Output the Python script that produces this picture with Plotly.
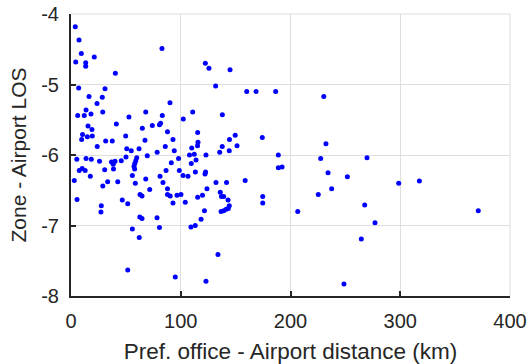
import plotly.graph_objects as go

distance_km = [
    3.9, 7.3, 9.4, 21.2, 4.3, 13.4, 13.4, 40.4, 82.9, 7.0, 31.0, 16.4, 28.5,
    122.4, 125.7, 144.9, 131.8, 160.1, 168.6, 186.5, 230.3,
    23.7, 90.2, 13.7, 6.1, 12.1, 18.2, 28.9, 52.8, 68.1, 83.2, 110.9, 137.9, 102.3,
    41.3, 15.5, 19.1, 74.1, 81.6, 80.6, 65.0, 87.9, 115.4, 149.6, 174.3,
    10.5, 14.9, 19.4, 9.7, 31.6, 37.6, 49.8, 67.4, 92.9, 144.4, 115.7, 115.3,
    23.9, 85.9, 151.3, 137.8, 50.8, 54.9, 62.0, 78.5, 94.1, 110.0, 144.2, 135.5,
    69.5, 108.0, 112.3, 123.0, 188.9, 50.1, 98.0, 5.3, 13.7, 18.5, 26.0, 36.9,
    40.1, 38.5, 45.8, 59.9, 59.0, 58.1, 57.4, 58.0, 91.4, 113.9, 109.6, 227.5,
    269.7, 232.3, 188.9, 192.3, 7.5, 10.2, 12.9, 30.7, 38.7, 86.6, 98.7, 113.3,
    122.6, 122.1, 17.6, 55.9, 81.1, 102.1, 106.6, 234.2, 251.8, 3.0, 33.4, 42.6,
    58.6, 68.1, 83.8, 132.1, 141.7, 158.7, 298.6, 317.4, 29.0, 71.7, 87.9, 123.9,
    237.5, 62.9, 64.7, 87.9, 90.4, 96.6, 100.2, 136.0, 137.1, 139.1, 119.8, 115.4,
    174.7, 225.3, 5.5, 46.7, 143.1, 51.7, 27.6, 92.9, 104.1, 174.7, 144.2, 143.3,
    141.4, 139.1, 136.7, 121.6, 27.3, 206.6, 267.6, 371.1, 62.7, 64.7, 78.4, 118.5,
    277.0, 55.9, 80.6, 109.3, 113.2, 62.2, 264.5, 133.9, 51.7, 95.0, 123.0, 248.7,
]

zone_airport_los = [
    -4.18, -4.37, -4.56, -4.61, -4.68, -4.69, -4.74, -4.84, -4.49, -5.05, -5.06, -5.17, -5.18,
    -4.70, -4.77, -4.79, -5.02, -5.10, -5.10, -5.10, -5.17,
    -5.27, -5.26, -5.36, -5.44, -5.44, -5.42, -5.39, -5.46, -5.39, -5.44, -5.39, -5.43, -5.49,
    -5.56, -5.59, -5.64, -5.58, -5.55, -5.57, -5.62, -5.67, -5.68, -5.72, -5.75,
    -5.71, -5.74, -5.73, -5.78, -5.80, -5.80, -5.73, -5.79, -5.78, -5.78, -5.82, -5.87,
    -5.88, -5.88, -5.87, -5.88, -5.91, -5.94, -5.91, -5.96, -5.94, -5.90, -5.94, -5.96,
    -6.01, -6.00, -5.99, -6.00, -6.00, -6.03, -6.05, -6.06, -6.05, -6.06, -6.09, -6.10,
    -6.09, -6.13, -6.08, -6.04, -6.08, -6.12, -6.16, -6.20, -6.11, -6.07, -6.12, -6.05,
    -6.04, -5.84, -6.18, -6.17, -6.22, -6.19, -6.22, -6.21, -6.20, -6.22, -6.22, -6.24,
    -6.24, -6.27, -6.30, -6.29, -6.30, -6.29, -6.30, -6.25, -6.31, -6.36, -6.38, -6.38,
    -6.40, -6.34, -6.39, -6.39, -6.39, -6.36, -6.40, -6.37, -6.44, -6.49, -6.48, -6.48,
    -6.48, -6.56, -6.58, -6.56, -6.58, -6.57, -6.56, -6.53, -6.59, -6.59, -6.57, -6.60,
    -6.59, -6.56, -6.63, -6.64, -6.64, -6.69, -6.72, -6.68, -6.67, -6.68, -6.72, -6.76,
    -6.77, -6.79, -6.80, -6.79, -6.81, -6.80, -6.71, -6.79, -6.88, -6.90, -6.89, -6.91,
    -6.96, -7.05, -7.03, -7.02, -7.00, -7.17, -7.19, -7.41, -7.63, -7.73, -7.79, -7.83,
]

x_tick_vals = [0, 100, 200, 300, 400]
x_tick_text = ["0", "100", "200", "300", "400"]
y_tick_vals = [-8, -7, -6, -5, -4]
y_tick_text = ["-8", "-7", "-6", "-5", "-4"]

x_title = "Pref. office - Airport distance (km)"
y_title = "Zone - Airport LOS"

axis_color = "#262626"
grid_color = "#dedede"
font_family = "Liberation Sans, Arial, sans-serif"

fig = go.Figure(
    go.Scatter(
        x=distance_km,
        y=zone_airport_los,
        mode="markers",
        marker=dict(color="#0000ff", size=5, line=dict(width=0)),
        showlegend=False,
        hoverinfo="skip",
    )
)

common_axis = dict(
    showgrid=True,
    gridcolor=grid_color,
    gridwidth=1,
    showline=True,
    linecolor=axis_color,
    linewidth=2,
    ticks="inside",
    ticklen=5,
    tickwidth=1.5,
    tickcolor=axis_color,
    zeroline=False,
    mirror=False,
    tickfont=dict(family=font_family, size=20, color=axis_color),
    automargin=False,
)

fig.update_xaxes(
    range=[0, 400],
    tickvals=x_tick_vals,
    ticktext=x_tick_text,
    title_text=x_title,
    title_font=dict(family=font_family, size=22.5, color=axis_color),
    title_standoff=14,
    ticklabelstandoff=6,
    **common_axis,
)
fig.update_yaxes(
    range=[-8, -4],
    tickvals=y_tick_vals,
    ticktext=y_tick_text,
    title_text=y_title,
    title_font=dict(family=font_family, size=21, color=axis_color),
    title_standoff=9,
    ticklabelstandoff=6,
    **common_axis,
)

# light-gray outline along top and right edges
fig.add_shape(type="line", xref="paper", yref="paper", x0=0, x1=1, y0=1, y1=1,
              line=dict(color=grid_color, width=1), layer="below")
fig.add_shape(type="line", xref="paper", yref="paper", x0=1, x1=1, y0=0, y1=1,
              line=dict(color=grid_color, width=1), layer="below")

fig.update_layout(
    width=528,
    height=364,
    margin=dict(l=71, r=18, t=14, b=68),
    paper_bgcolor="white",
    plot_bgcolor="white",
    font=dict(family=font_family, color=axis_color),
)

fig.write_html("out.html")
